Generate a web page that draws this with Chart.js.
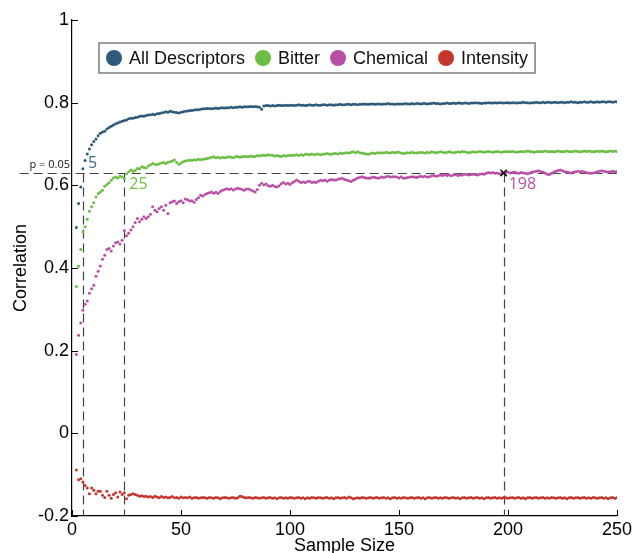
<!DOCTYPE html>
<html>
<head>
<meta charset="utf-8">
<script src="https://cdn.jsdelivr.net/npm/chart.js@4.4.1/dist/chart.umd.min.js"></script>
<style>
  html, body { margin: 0; padding: 0; background: #fff; }
  #wrap { width: 635px; height: 553px; }
</style>
</head>
<body>
<div id="wrap"><canvas id="corr-chart" width="635" height="553"></canvas></div>
<script>
// sample sizes 2..250, one point per size
const sampleSizes = Array.from({ length: 249 }, (_, i) => i + 2);

const allDescriptors = [
  .498,.556,.596,.640,.660,.676,.688,.698,.706,.712,
  .720,.726,.729,.731,.736,.740,.743,.746,.749,.751,
  .753,.755,.757,.758,.761,.762,.762,.764,.765,.767,
  .768,.767,.769,.770,.771,.772,.771,.773,.774,.775,
  .776,.778,.777,.779,.778,.777,.776,.775,.777,.778,
  .779,.780,.781,.781,.782,.783,.783,.784,.785,.785,
  .786,.786,.785,.786,.787,.786,.787,.788,.787,.788,
  .788,.789,.788,.789,.789,.790,.789,.790,.790,.790,
  .791,.790,.791,.790,.789,.784,.792,.793,.793,.792,
  .793,.792,.793,.794,.793,.793,.794,.793,.794,.794,
  .793,.794,.795,.794,.794,.793,.794,.795,.794,.794,
  .795,.794,.794,.795,.795,.794,.795,.795,.794,.795,
  .795,.796,.795,.795,.796,.796,.795,.796,.796,.795,
  .796,.796,.797,.796,.796,.797,.797,.796,.797,.797,
  .796,.797,.797,.798,.797,.797,.796,.797,.797,.797,
  .797,.798,.797,.797,.798,.797,.798,.798,.797,.798,
  .798,.797,.798,.798,.799,.798,.798,.797,.798,.798,
  .799,.798,.798,.799,.798,.799,.799,.798,.799,.799,
  .798,.799,.799,.800,.799,.799,.798,.799,.799,.800,
  .799,.799,.800,.799,.800,.800,.799,.800,.800,.799,
  .800,.800,.799,.800,.800,.801,.800,.800,.799,.800,
  .800,.801,.800,.800,.801,.800,.801,.801,.800,.801,
  .801,.800,.801,.801,.800,.801,.801,.802,.801,.801,
  .800,.801,.801,.802,.801,.801,.802,.801,.801,.802,
  .801,.802,.802,.801,.802,.802,.801,.802,.802
];

const bitter = [
  .355,.404,.445,.488,.500,.518,.537,.548,.558,.572,
  .580,.584,.588,.598,.602,.606,.612,.618,.620,.618,
  .622,.620,.616,.628,.633,.637,.634,.636,.641,.640,
  .645,.643,.642,.647,.650,.653,.651,.650,.652,.654,
  .655,.653,.656,.657,.659,.661,.656,.651,.654,.657,
  .659,.660,.661,.660,.662,.661,.663,.662,.663,.664,
  .665,.666,.668,.669,.667,.668,.666,.668,.667,.668,
  .669,.668,.667,.669,.670,.668,.669,.670,.670,.669,
  .671,.670,.670,.672,.671,.673,.673,.672,.674,.673,
  .673,.671,.672,.671,.670,.672,.671,.672,.673,.672,
  .673,.674,.672,.674,.673,.675,.675,.674,.676,.674,
  .675,.676,.674,.675,.676,.677,.676,.675,.677,.677,
  .676,.678,.677,.678,.679,.678,.680,.681,.679,.681,
  .679,.678,.677,.676,.675,.677,.678,.677,.679,.678,
  .679,.678,.680,.679,.678,.680,.679,.680,.680,.678,
  .677,.678,.679,.678,.680,.679,.678,.679,.680,.679,
  .678,.680,.679,.681,.680,.679,.680,.681,.680,.679,
  .680,.681,.680,.679,.680,.681,.680,.682,.681,.680,
  .679,.680,.681,.680,.681,.682,.681,.680,.681,.682,
  .681,.680,.681,.682,.681,.680,.681,.682,.681,.681,
  .682,.681,.680,.681,.682,.681,.682,.683,.682,.681,
  .680,.681,.682,.681,.682,.683,.682,.681,.682,.681,
  .682,.683,.682,.681,.682,.683,.682,.681,.682,.683,
  .682,.681,.682,.683,.682,.683,.682,.681,.682,.683,
  .682,.683,.682,.681,.682,.683,.682,.683,.682
];

const chemical = [
  .191,.237,.267,.298,.312,.320,.339,.350,.358,.380,
  .392,.405,.421,.431,.445,.447,.441,.453,.461,.463,
  .458,.467,.490,.478,.484,.492,.500,.510,.520,.512,
  .518,.524,.520,.524,.530,.548,.540,.536,.544,.548,
  .540,.552,.532,.558,.560,.562,.556,.560,.563,.558,
  .567,.565,.562,.563,.559,.566,.570,.576,.574,.578,
  .580,.582,.584,.581,.583,.580,.585,.588,.590,.592,
  .590,.592,.589,.591,.593,.592,.590,.588,.591,.591,
  .589,.586,.584,.590,.600,.605,.601,.603,.599,.598,
  .600,.597,.596,.599,.604,.607,.603,.605,.602,.606,
  .609,.613,.610,.607,.608,.607,.609,.610,.607,.608,
  .607,.610,.612,.611,.613,.610,.612,.614,.613,.613,
  .615,.616,.617,.614,.613,.611,.609,.612,.615,.618,
  .619,.621,.619,.618,.617,.618,.620,.619,.618,.618,
  .620,.619,.621,.622,.620,.621,.621,.620,.618,.621,
  .617,.618,.619,.620,.621,.620,.619,.621,.622,.621,
  .622,.620,.621,.623,.624,.622,.623,.625,.624,.626,
  .624,.625,.623,.625,.626,.624,.625,.625,.627,.626,
  .625,.626,.627,.626,.625,.627,.628,.627,.629,.631,
  .630,.631,.629,.630,.628,.629,.630,.631,.632,.630,
  .631,.632,.630,.629,.631,.630,.629,.628,.630,.632,
  .633,.634,.635,.633,.632,.630,.627,.626,.629,.632,
  .634,.636,.637,.635,.633,.632,.631,.630,.632,.633,
  .634,.633,.634,.632,.631,.630,.629,.630,.631,.633,
  .634,.635,.634,.633,.632,.633,.634,.633,.633
];

const intensity = [
  -.089,-.112,-.110,-.118,-.126,-.132,-.146,-.132,-.138,-.146,
  -.140,-.140,-.150,-.155,-.140,-.150,-.157,-.148,-.144,-.154,
  -.142,-.148,-.144,-.158,-.150,-.148,-.146,-.148,-.150,-.152,
  -.151,-.153,-.152,-.154,-.153,-.155,-.152,-.154,-.156,-.153,
  -.155,-.154,-.156,-.155,-.153,-.156,-.155,-.157,-.154,-.156,
  -.155,-.156,-.154,-.157,-.156,-.155,-.157,-.156,-.155,-.156,
  -.157,-.155,-.156,-.157,-.155,-.156,-.158,-.156,-.155,-.156,
  -.157,-.156,-.155,-.157,-.156,-.152,-.153,-.155,-.156,-.155,
  -.156,-.157,-.155,-.156,-.157,-.156,-.155,-.157,-.156,-.155,
  -.157,-.156,-.158,-.156,-.155,-.157,-.156,-.157,-.155,-.156,
  -.157,-.156,-.155,-.157,-.156,-.158,-.156,-.157,-.155,-.156,
  -.157,-.155,-.156,-.157,-.156,-.155,-.157,-.156,-.158,-.156,
  -.155,-.157,-.156,-.155,-.157,-.154,-.156,-.158,-.157,-.156,
  -.157,-.155,-.156,-.157,-.156,-.155,-.157,-.156,-.155,-.157,
  -.156,-.155,-.157,-.156,-.158,-.156,-.155,-.157,-.156,-.157,
  -.155,-.156,-.157,-.156,-.155,-.157,-.156,-.155,-.157,-.156,
  -.158,-.156,-.155,-.157,-.156,-.155,-.157,-.156,-.157,-.155,
  -.156,-.157,-.156,-.155,-.157,-.156,-.158,-.156,-.155,-.157,
  -.156,-.155,-.157,-.156,-.155,-.157,-.156,-.158,-.156,-.155,
  -.157,-.156,-.155,-.157,-.156,-.157,-.155,-.156,-.157,-.156,
  -.155,-.157,-.156,-.155,-.157,-.156,-.158,-.156,-.155,-.157,
  -.156,-.155,-.157,-.156,-.155,-.157,-.156,-.157,-.155,-.156,
  -.157,-.156,-.155,-.157,-.156,-.158,-.156,-.155,-.157,-.156,
  -.155,-.157,-.156,-.155,-.157,-.156,-.157,-.155,-.156,-.157,
  -.156,-.155,-.157,-.156,-.158,-.156,-.155,-.157,-.156
];

// p = 0.05 significance threshold and where each curve crosses it
const threshold = 0.63;
const thresholdLabel = 'p = 0.05';
const thresholdFrom = -24;
const crossings = [5, 24, 198];
const crossingLabels = ['5', '25', '198'];

const xTicks = [0, 50, 100, 150, 200, 250];
const yTicks = [-0.2, 0, 0.2, 0.4, 0.6, 0.8, 1];

const FONT = "'Liberation Sans', Arial, Helvetica, sans-serif";
const NOTE_FONT = "'Open Sans', 'Noto Sans', sans-serif";
const BLUE = '#2d5878', GREEN = '#6cbd45', MAGENTA = '#b94fa5', RED = '#c4362b';

function toPoints(values) {
  return values.map((v, i) => ({ x: sampleSizes[i], y: v }));
}

const inwardTicks = {
  id: 'inwardTicks',
  afterDraw(chart) {
    const { ctx, scales: { x, y } } = chart;
    ctx.save();
    ctx.strokeStyle = '#000';
    ctx.lineWidth = 1;
    xTicks.forEach(v => {
      const px = Math.round(x.getPixelForValue(v)) + 0.5;
      ctx.beginPath(); ctx.moveTo(px, y.bottom); ctx.lineTo(px, y.bottom - 6); ctx.stroke();
    });
    yTicks.forEach(v => {
      const py = Math.round(y.getPixelForValue(v)) + 0.5;
      ctx.beginPath(); ctx.moveTo(x.left, py); ctx.lineTo(x.left + 6, py); ctx.stroke();
    });
    ctx.restore();
  }
};

const thresholdLines = {
  id: 'thresholdLines',
  beforeDatasetsDraw(chart) {
    const { ctx, scales: { x, y } } = chart;
    const ty = Math.round(y.getPixelForValue(threshold)) + 0.5;
    ctx.save();
    ctx.strokeStyle = '#444';
    ctx.lineWidth = 1.2;
    ctx.setLineDash([9, 5]);
    ctx.beginPath();
    ctx.moveTo(x.getPixelForValue(thresholdFrom), ty);
    ctx.lineTo(x.right, ty);
    ctx.stroke();
    crossings.forEach(c => {
      const px = Math.round(x.getPixelForValue(c)) + 0.5;
      ctx.beginPath(); ctx.moveTo(px, ty); ctx.lineTo(px, y.bottom); ctx.stroke();
    });
    ctx.restore();
  },
  afterDatasetsDraw(chart) {
    const { ctx, scales: { x, y } } = chart;
    const ty = y.getPixelForValue(threshold);
    const colors = ['#3d6a8e', GREEN, MAGENTA];
    const dy = [-9, 12, 12];
    ctx.save();
    ctx.textBaseline = 'middle';
    ctx.font = '16px ' + NOTE_FONT;
    crossings.forEach((c, i) => {
      ctx.fillStyle = colors[i];
      ctx.textAlign = 'left';
      ctx.fillText(crossingLabels[i], x.getPixelForValue(c) + 5, ty + dy[i]);
    });
    ctx.font = '11px ' + NOTE_FONT;
    ctx.fillStyle = '#111';
    ctx.textAlign = 'right';
    ctx.fillText(thresholdLabel, x.left - 2, ty - 8);
    ctx.restore();
  }
};

const boxedLegend = {
  id: 'boxedLegend',
  afterDraw(chart) {
    const { ctx } = chart;
    const items = chart.data.datasets.filter(d => d.inLegend);
    const left = 99, top = 43, h = 30, r = 8;
    const cy = top + h / 2;
    ctx.save();
    ctx.font = '18px ' + FONT;
    let cur = left + 7;
    const drawn = [];
    items.forEach(d => {
      drawn.push({ d, cx: cur + r, tx: cur + 2 * r + 7 });
      cur += 2 * r + 7 + ctx.measureText(d.label).width + 10;
    });
    const w = cur - 10 + 7 - left;
    ctx.fillStyle = '#fff';
    ctx.fillRect(left, top, w, h);
    ctx.strokeStyle = '#858585';
    ctx.lineWidth = 1.6;
    ctx.strokeRect(left, top, w, h);
    ctx.textBaseline = 'middle';
    ctx.textAlign = 'left';
    drawn.forEach(({ d, cx, tx }) => {
      ctx.fillStyle = d.legendColor;
      ctx.beginPath(); ctx.arc(cx, cy, r, 0, Math.PI * 2); ctx.fill();
      ctx.fillStyle = '#111';
      ctx.fillText(d.label, tx, cy + 1);
    });
    ctx.restore();
  }
};

new Chart(document.getElementById('corr-chart'), {
  type: 'scatter',
  data: {
    datasets: [
      { label: 'All Descriptors', data: toPoints(allDescriptors), backgroundColor: BLUE, legendColor: '#2f5a7b', inLegend: true, order: 1 },
      { label: 'Bitter', data: toPoints(bitter), backgroundColor: GREEN, legendColor: GREEN, inLegend: true, order: 2 },
      { label: 'Chemical', data: toPoints(chemical), backgroundColor: MAGENTA, legendColor: MAGENTA, inLegend: true, order: 3 },
      { label: 'Intensity', data: toPoints(intensity), backgroundColor: RED, legendColor: RED, inLegend: true, order: 4 },
      {
        label: 'crossing', data: [{ x: crossings[2], y: threshold }],
        pointStyle: 'crossRot', pointRadius: 4.5, borderColor: '#111', borderWidth: 1.6,
        backgroundColor: '#111', inLegend: false, order: 0
      }
    ]
  },
  options: {
    responsive: false,
    animation: false,
    devicePixelRatio: 1,
    layout: { padding: { top: 20, right: 18, left: 0, bottom: 0 } },
    elements: { point: { radius: 1.5, borderWidth: 0, hoverRadius: 1.5 } },
    plugins: { legend: { display: false }, tooltip: { enabled: false } },
    scales: {
      x: {
        type: 'linear', min: 0, max: 250,
        afterFit: s => { s.height = 37; },
        afterBuildTicks: s => { s.ticks = xTicks.map(v => ({ value: v })); },
        grid: { display: false, drawTicks: false },
        border: { display: true, color: '#000', width: 1.2 },
        ticks: { color: '#000', font: { family: FONT, size: 18 }, padding: 3, maxRotation: 0, callback: v => String(v) },
        title: { display: true, text: 'Sample Size', color: '#000', font: { family: FONT, size: 18 }, padding: { top: 0, bottom: -4 } }
      },
      y: {
        type: 'linear', min: -0.2, max: 1,
        afterFit: s => { s.width = 72; },
        afterBuildTicks: s => { s.ticks = yTicks.map(v => ({ value: v })); },
        grid: { display: false, drawTicks: false },
        border: { display: true, color: '#000', width: 1.2 },
        ticks: { color: '#000', font: { family: FONT, size: 18 }, padding: 3, callback: v => String(Math.round(v * 10) / 10) },
        title: { display: true, text: 'Correlation', color: '#000', font: { family: FONT, size: 18 }, padding: { top: 10, bottom: 0 } }
      }
    }
  },
  plugins: [thresholdLines, inwardTicks, boxedLegend]
});
</script>
</body>
</html>
